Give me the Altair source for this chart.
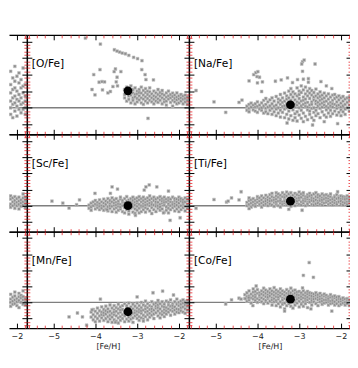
import altair as alt
import pandas as pd

# ---------------- data ----------------
FE_FULL = [-5.64, -1.76]      # [Fe/H] range of a full panel
FE_PART = [-2.19, -1.76]      # visible part of the cropped left column
FE_SLIV = [-5.64, -5.50]      # visible part of the cropped right column
Y_DOMAIN = [-0.8, 2.2]
X_MAJOR = [-5, -4, -3, -2]
X_MINOR = [-5.6, -5.4, -5.2, -4.8, -4.6, -4.4, -4.2, -3.8, -3.6, -3.4, -3.2,
           -2.8, -2.6, -2.4, -2.2, -1.8]
Y_MAJOR = [-0.5, 0.0, 0.5, 1.0, 1.5, 2.0]
Y_MINOR = [-0.7, -0.6, -0.4, -0.3, -0.2, -0.1, 0.1, 0.2, 0.3, 0.4, 0.6, 0.7, 0.8,
           0.9, 1.1, 1.2, 1.3, 1.4, 1.6, 1.7, 1.8, 1.9, 2.1]

# --- [O/Fe]
O_CLOUD = {
    -3.30: [0.55, 0.40, 0.30], -3.25: [0.62, 0.47, 0.20], -3.20: [0.35, 0.25, 0.58],
    -3.15: [0.50, 0.38, 0.15, 0.66], -3.10: [0.45, 0.30, 0.22, 0.55],
    -3.05: [0.60, 0.40, 0.12, 0.33], -3.00: [0.50, 0.28, 0.42, 0.18],
    -2.95: [0.36, 0.55, 0.24, 0.46], -2.90: [0.44, 0.30, 0.62, 0.15],
    -2.85: [0.52, 0.38, 0.26, 0.10], -2.80: [0.46, 0.33, 0.20, 0.58],
    -2.75: [0.40, 0.28, 0.50, 0.15], -2.70: [0.35, 0.22, 0.48, 0.60],
    -2.65: [0.42, 0.30, 0.18], -2.60: [0.50, 0.36, 0.25, 0.12],
    -2.55: [0.45, 0.32, 0.20], -2.50: [0.40, 0.27, 0.55, 0.16],
    -2.45: [0.35, 0.22, 0.46], -2.40: [0.42, 0.30, 0.12, 0.52],
    -2.35: [0.38, 0.25, 0.18], -2.30: [0.45, 0.32, 0.20, 0.08],
    -2.25: [0.36, 0.26, 0.50], -2.20: [0.30, 0.40, 0.16],
    -2.15: [0.34, 0.22, 0.44, 0.05], -2.10: [0.28, 0.38, 0.18],
    -2.05: [0.32, 0.24, 0.45, 0.12], -2.00: [0.27, 0.36, 0.15],
    -1.95: [0.30, 0.20, 0.40], -1.90: [0.25, 0.35, 0.12],
    -1.85: [0.28, 0.18, 0.38], -1.80: [0.22, 0.32, 0.10],
}
O_OUT = [(-4.24, 2.10), (-3.88, 1.92), (-3.545, 1.75), (-3.48, 1.71), (-3.42, 1.68),
         (-3.355, 1.65), (-3.28, 1.63), (-3.20, 1.58), (-3.085, 1.52), (-2.99, 1.48),
         (-2.885, 1.42), (-3.89, 1.15), (-4.04, 1.00), (-3.91, 0.77), (-3.84, 0.79),
         (-3.78, 0.78), (-4.08, 0.55), (-4.01, 0.39), (-3.52, 1.17), (-3.55, 1.09),
         (-3.39, 1.09), (-3.48, 0.92), (-3.50, 0.78), (-3.58, 0.64), (-3.47, 0.66),
         (-3.70, 0.45), (-3.83, 0.54), (-3.64, 0.49), (-2.89, 1.15), (-2.81, 1.00),
         (-2.79, 0.85), (-2.61, 0.84), (-2.74, -0.32)]
O_STAR = (-3.22, 0.51)

# --- [Na/Fe]
NA_CLOUD = {
    -4.25: [0.05, -0.08], -4.20: [0.10, -0.02, -0.12], -4.15: [0.02, 0.14],
    -4.10: [-0.06, 0.08], -4.05: [0.12, -0.10, 0.02], -4.00: [0.04, -0.14, 0.18],
    -3.95: [0.08, -0.04], -3.90: [0.15, -0.08, 0.00], -3.85: [0.06, -0.16, 0.22],
    -3.80: [0.10, -0.02, 0.28, -0.12], -3.75: [0.18, 0.02, -0.18],
    -3.70: [0.06, 0.24, -0.08], -3.65: [0.12, -0.02, 0.30, -0.20],
    -3.60: [0.20, 0.04, -0.12], -3.55: [0.08, 0.34, -0.04, -0.24],
    -3.50: [0.16, 0.00, 0.26, -0.16], -3.45: [0.40, 0.10, -0.08, 0.22, -0.28],
    -3.40: [0.04, 0.30, 0.16, -0.14], -3.35: [0.44, 0.20, 0.06, -0.04, -0.30],
    -3.30: [0.12, 0.36, -0.20, 0.26, 0.00], -3.25: [0.50, 0.18, -0.10, 0.30, -0.34],
    -3.20: [0.06, 0.40, -0.24, 0.22, 0.58], -3.15: [0.14, 0.32, -0.06, -0.38, 0.48],
    -3.10: [0.24, 0.02, 0.42, -0.18, 0.10, -0.30],
    -3.05: [0.36, 0.08, 0.60, -0.12, 0.18, -0.40],
    -3.00: [0.50, 0.28, 0.00, -0.22, 0.14, 0.40],
    -2.95: [0.20, -0.08, 0.46, 0.66, -0.32, 0.06],
    -2.90: [0.32, 0.10, -0.16, 0.54, -0.42, 0.22],
    -2.85: [0.42, 0.04, 0.26, -0.26, 0.14, 0.62],
    -2.80: [0.16, -0.06, 0.36, 0.50, -0.36, 0.02],
    -2.75: [0.28, 0.08, -0.20, 0.44, 0.58, -0.10],
    -2.70: [0.38, 0.18, -0.02, -0.30, 0.10, 0.52],
    -2.65: [0.24, 0.00, 0.46, -0.14, 0.32, -0.38],
    -2.60: [0.12, 0.36, -0.08, 0.56, -0.24, 0.20],
    -2.55: [0.30, 0.06, 0.42, -0.18, 0.16],
    -2.50: [0.22, -0.02, 0.48, -0.30, 0.10, 0.34],
    -2.45: [0.14, 0.38, -0.12, 0.26, 0.02], -2.40: [0.30, 0.08, -0.22, 0.44, 0.18],
    -2.35: [0.20, -0.06, 0.36, 0.04, -0.28], -2.30: [0.26, 0.12, 0.42, -0.16, 0.00],
    -2.25: [0.16, 0.32, -0.08, 0.06, -0.26], -2.20: [0.22, 0.38, 0.02, -0.18, 0.12],
    -2.15: [0.10, 0.28, -0.10, 0.40], -2.10: [0.18, -0.02, 0.32, -0.22, 0.06],
    -2.05: [0.24, 0.08, 0.36, -0.14], -2.00: [0.14, -0.06, 0.30, 0.02, -0.24],
    -1.95: [0.20, 0.06, 0.34, -0.12], -1.90: [0.10, 0.26, -0.04, -0.20],
    -1.85: [0.16, 0.30, 0.00], -1.80: [0.08, 0.22, -0.10, 0.32],
}
NA_OUT = [(-5.47, 0.52), (-5.04, 0.18), (-4.76, -0.14), (-4.44, 0.16), (-4.37, 0.23),
          (-4.20, 0.81), (-4.09, 1.00), (-4.04, 1.06), (-3.99, 1.09), (-4.01, 0.94),
          (-3.95, 0.92), (-3.88, 0.78), (-4.00, 0.75), (-3.90, 0.49), (-3.57, 0.80),
          (-3.43, 0.84), (-3.28, 0.90), (-3.16, 0.76), (-3.04, 0.85), (-2.90, 0.86),
          (-2.78, 0.88), (-2.78, 0.77), (-2.92, 1.39), (-2.88, 1.44), (-2.94, 1.32),
          (-2.92, 1.10), (-2.62, 1.32), (-2.48, 0.79), (-2.35, 0.66), (-2.22, 0.58),
          (-3.29, -0.46), (-2.68, -0.52), (-2.40, -0.42), (-2.08, -0.48)]
NA_STAR = (-3.21, 0.09)

# --- [Sc/Fe]
SC_CLOUD = {
    -4.15: [0.02, -0.08], -4.10: [0.08, -0.04, -0.14], -4.05: [0.00, 0.12],
    -4.00: [-0.10, 0.05, 0.16], -3.95: [0.02, -0.06, 0.10],
    -3.90: [-0.12, 0.06, 0.18, -0.02], -3.85: [0.00, 0.12, -0.08],
    -3.80: [0.08, -0.14, 0.20, -0.02], -3.75: [0.04, 0.14, -0.10],
    -3.70: [-0.04, 0.10, 0.22, -0.16], -3.65: [0.06, -0.08, 0.16, 0.00],
    -3.60: [0.12, -0.02, -0.18, 0.24], -3.55: [0.02, 0.18, -0.10, 0.08],
    -3.50: [-0.06, 0.10, 0.22, -0.20, 0.02], -3.45: [0.14, -0.02, 0.06, -0.14],
    -3.40: [0.04, 0.20, -0.10, 0.26, -0.04], -3.35: [0.10, -0.18, 0.00, 0.16],
    -3.30: [-0.06, 0.08, 0.22, -0.22, 0.02], -3.25: [0.14, -0.02, 0.28, -0.12],
    -3.20: [0.06, -0.16, 0.18, 0.10, -0.26], -3.15: [0.00, 0.22, -0.08, 0.12],
    -3.10: [0.16, -0.04, 0.06, -0.20, 0.26], -3.05: [-0.10, 0.10, 0.20, 0.02, -0.24],
    -3.00: [0.08, -0.02, 0.24, -0.14, 0.14], -2.95: [0.04, 0.18, -0.08, -0.22, 0.28],
    -2.90: [0.12, -0.04, 0.22, 0.00, -0.18], -2.85: [0.06, 0.16, -0.12, 0.26, -0.02],
    -2.80: [-0.06, 0.10, 0.20, -0.20, 0.02], -2.75: [0.14, 0.04, -0.10, 0.24],
    -2.70: [0.00, 0.18, -0.16, 0.08, 0.30], -2.65: [0.10, -0.06, 0.22, -0.24, 0.04],
    -2.60: [0.16, 0.02, -0.12, 0.26], -2.55: [0.06, -0.02, 0.20, -0.18, 0.12],
    -2.50: [0.10, 0.24, -0.08, 0.00], -2.45: [0.18, 0.04, -0.14, 0.28, -0.04],
    -2.40: [0.08, -0.10, 0.14, 0.22], -2.35: [0.02, 0.16, -0.20, 0.10, 0.26],
    -2.30: [0.12, -0.04, 0.20, -0.14], -2.25: [0.06, 0.24, -0.08, 0.16, -0.22],
    -2.20: [0.00, 0.12, 0.20, -0.12], -2.15: [0.10, -0.06, 0.26, 0.04],
    -2.10: [0.16, -0.16, 0.06, 0.22, -0.02], -2.05: [0.02, 0.12, -0.10, 0.20],
    -2.00: [0.08, -0.04, 0.18, -0.18, 0.26], -1.95: [0.14, 0.00, -0.12, 0.22],
    -1.90: [0.06, 0.18, -0.06, 0.10], -1.85: [0.12, -0.02, 0.24, -0.16],
    -1.80: [0.04, 0.16, -0.08, 0.20],
}
SC_OUT = [(-5.04, 0.14), (-4.78, 0.08), (-4.63, -0.07), (-4.38, 0.18), (-4.45, 0.03),
          (-4.01, 0.38), (-3.60, 0.58), (-3.47, 0.51), (-3.64, 0.38), (-2.83, 0.48),
          (-2.79, 0.58), (-2.71, 0.64), (-2.53, 0.58), (-2.25, 0.45), (-2.21, -0.45),
          (-1.97, -0.37), (-3.04, -0.30), (-2.37, -0.22), (-3.72, -0.12)]
SC_STAR = (-3.22, 0.00)

# --- [Ti/Fe]
TI_CLOUD = {
    -4.25: [0.10, 0.00], -4.20: [0.16, 0.04, 0.24], -4.15: [0.08, -0.04, 0.18],
    -4.10: [0.12, 0.02, 0.22], -4.05: [0.06, 0.16, -0.02], -4.00: [0.20, 0.10, 0.28],
    -3.95: [0.04, 0.14, 0.24], -3.90: [0.18, 0.08, -0.04, 0.30],
    -3.85: [0.12, 0.24, 0.02], -3.80: [0.20, 0.06, 0.32, 0.14],
    -3.75: [0.10, 0.26, 0.00, 0.18], -3.70: [0.22, 0.06, 0.34, 0.14],
    -3.65: [0.16, 0.02, 0.28, 0.38], -3.60: [0.10, 0.24, -0.02, 0.18],
    -3.55: [0.30, 0.06, 0.20, 0.40, 0.12], -3.50: [0.14, 0.26, 0.00, 0.36],
    -3.45: [0.22, 0.08, 0.32, 0.16, -0.04], -3.40: [0.12, 0.28, 0.40, 0.04],
    -3.35: [0.20, 0.34, 0.08, 0.26, 0.14], -3.30: [0.02, 0.18, 0.30, 0.42, 0.10],
    -3.25: [0.24, 0.14, 0.36, 0.06], -3.20: [0.10, 0.28, 0.20, -0.02, 0.40],
    -3.15: [0.16, 0.32, 0.04, 0.24], -3.10: [0.26, 0.12, 0.38, 0.00, 0.18],
    -3.05: [0.08, 0.22, 0.34, 0.14], -3.00: [0.30, 0.18, 0.04, 0.42, 0.24],
    -2.95: [0.12, 0.26, 0.36, 0.02], -2.90: [0.20, 0.08, 0.32, 0.16, 0.40],
    -2.85: [0.28, 0.14, 0.00, 0.22], -2.80: [0.10, 0.34, 0.20, 0.06, 0.26],
    -2.75: [0.18, 0.30, 0.12, 0.38], -2.70: [0.24, 0.04, 0.16, 0.32],
    -2.65: [0.10, 0.22, 0.36, 0.14, 0.02], -2.60: [0.28, 0.18, 0.06, 0.40],
    -2.55: [0.14, 0.26, 0.34, 0.08], -2.50: [0.20, 0.04, 0.30, 0.16],
    -2.45: [0.12, 0.24, 0.36, 0.02, 0.18], -2.40: [0.28, 0.08, 0.20, 0.32],
    -2.35: [0.16, 0.34, 0.10, 0.24], -2.30: [0.04, 0.22, 0.30, 0.14],
    -2.25: [0.18, 0.28, 0.08, 0.36], -2.20: [0.12, 0.24, 0.02, 0.20],
    -2.15: [0.30, 0.16, 0.08, 0.26], -2.10: [0.10, 0.22, 0.34, 0.04],
    -2.05: [0.18, 0.28, 0.12, 0.24], -2.00: [0.06, 0.20, 0.30, 0.14],
    -1.95: [0.22, 0.10, 0.28, 0.02], -1.90: [0.16, 0.26, 0.08, 0.20],
    -1.85: [0.12, 0.30, 0.04, 0.22], -1.80: [0.18, 0.08, 0.26, 0.14],
}
TI_OUT = [(-5.47, -0.08), (-5.04, 0.19), (-4.74, 0.11), (-4.70, 0.14), (-4.62, 0.24),
          (-4.39, 0.43), (-4.44, 0.18), (-4.20, -0.09), (-3.25, -0.11), (-2.93, -0.14),
          (-2.08, 0.43)]
TI_STAR = (-3.21, 0.14)

# --- [Mn/Fe]
MN_CLOUD = {
    -4.10: [-0.30, -0.46], -4.05: [-0.38, -0.22, -0.54], -4.00: [-0.28, -0.44, -0.60],
    -3.95: [-0.34, -0.18, -0.50], -3.90: [-0.42, -0.26, -0.58],
    -3.85: [-0.30, -0.48, -0.14, -0.38], -3.80: [-0.22, -0.40, -0.56, -0.32],
    -3.75: [-0.36, -0.12, -0.50, -0.26], -3.70: [-0.44, -0.20, -0.60, -0.30],
    -3.65: [-0.28, -0.40, -0.08, -0.52], -3.60: [-0.34, -0.18, -0.46, -0.62],
    -3.55: [-0.24, -0.38, -0.10, -0.54, -0.30], -3.50: [-0.42, -0.16, -0.28, -0.58],
    -3.45: [-0.20, -0.34, -0.48, -0.06, -0.64], -3.40: [-0.30, -0.44, -0.14, -0.24, -0.56],
    -3.35: [-0.38, -0.10, -0.50, -0.22], -3.30: [-0.26, -0.42, -0.04, -0.34, -0.60],
    -3.25: [-0.18, -0.30, -0.52, -0.10], -3.20: [-0.36, -0.22, -0.46, -0.02, -0.58],
    -3.15: [-0.28, -0.14, -0.40, -0.52], -3.10: [-0.20, -0.34, -0.06, -0.48, -0.62],
    -3.05: [-0.26, -0.12, -0.42, -0.32], -3.00: [-0.18, -0.38, -0.02, -0.50, -0.28],
    -2.95: [-0.30, -0.10, -0.44, -0.22, -0.56], -2.90: [-0.16, -0.34, 0.00, -0.26, -0.48],
    -2.85: [-0.24, -0.40, -0.08, -0.52], -2.80: [-0.12, -0.30, -0.44, -0.20, 0.04],
    -2.75: [-0.28, -0.04, -0.38, -0.16, -0.54], -2.70: [-0.22, -0.10, -0.34, -0.46],
    -2.65: [-0.14, -0.28, 0.02, -0.40, -0.20], -2.60: [-0.06, -0.24, -0.36, -0.50],
    -2.55: [-0.18, -0.32, -0.02, -0.12], -2.50: [-0.26, -0.08, -0.42, -0.16, 0.06],
    -2.45: [-0.20, -0.34, -0.04, -0.48], -2.40: [-0.12, -0.28, 0.02, -0.38],
    -2.35: [-0.22, -0.06, -0.32, -0.44, -0.14], -2.30: [-0.16, 0.04, -0.26, -0.36],
    -2.25: [-0.08, -0.20, -0.30, 0.00], -2.20: [-0.24, -0.12, 0.08, -0.40],
    -2.15: [-0.04, -0.18, -0.28, -0.10], -2.10: [-0.14, 0.02, -0.24, -0.36],
    -2.05: [-0.20, -0.06, 0.10, -0.30], -2.00: [-0.10, -0.22, 0.00, -0.32],
    -1.95: [-0.16, 0.04, -0.26, -0.06], -1.90: [-0.02, -0.14, -0.30, 0.08],
    -1.85: [-0.20, -0.08, 0.02, -0.34], -1.80: [-0.12, 0.06, -0.24, -0.04],
}
MN_OUT = [(-4.63, -0.45), (-4.43, -0.33), (-4.31, -0.45), (-3.88, 0.10), (-4.08, -0.23),
          (-4.21, -0.71), (-3.00, 0.17), (-2.62, 0.30), (-2.39, 0.35), (-2.13, 0.23),
          (-2.85, -0.58), (-3.52, -0.62)]
MN_STAR = (-3.22, -0.29)

# --- [Co/Fe]
CO_CLOUD = {
    -4.30: [0.12, 0.24], -4.25: [0.04, 0.30, 0.18], -4.20: [0.20, 0.36, 0.08],
    -4.15: [0.14, 0.26, -0.02], -4.10: [0.32, 0.10, 0.20, 0.42],
    -4.05: [0.06, 0.24, 0.16, 0.34], -4.00: [0.28, 0.12, 0.40, 0.00],
    -3.95: [0.18, 0.30, 0.08, 0.22], -3.90: [0.36, 0.14, 0.02, 0.26],
    -3.85: [0.10, 0.22, 0.32, 0.44, -0.04], -3.80: [0.18, 0.28, 0.06, 0.38],
    -3.75: [0.24, 0.12, 0.34, -0.02, 0.16], -3.70: [0.30, 0.04, 0.20, 0.42],
    -3.65: [0.14, 0.26, 0.36, -0.08, 0.08], -3.60: [0.22, 0.02, 0.32, 0.12, 0.46],
    -3.55: [0.18, 0.28, -0.10, 0.06, 0.38], -3.50: [0.10, 0.24, 0.34, -0.04, 0.16],
    -3.45: [0.30, 0.02, 0.20, 0.42, -0.14], -3.40: [0.14, 0.26, 0.08, 0.36, -0.06],
    -3.35: [0.22, -0.02, 0.32, 0.12, -0.20], -3.30: [0.06, 0.18, 0.28, 0.40, -0.10],
    -3.25: [0.26, 0.14, -0.04, 0.34, 0.02], -3.20: [0.20, -0.12, 0.30, 0.08, 0.44],
    -3.15: [0.12, 0.24, 0.00, 0.36, -0.18], -3.10: [0.28, 0.06, 0.18, -0.08, 0.38],
    -3.05: [0.16, 0.32, -0.02, 0.10, 0.24], -3.00: [0.04, 0.22, 0.34, -0.14, 0.14],
    -2.95: [0.26, 0.10, -0.06, 0.30, 0.18], -2.90: [0.14, 0.02, 0.24, 0.36, -0.12],
    -2.85: [0.20, 0.30, 0.06, -0.04, 0.12], -2.80: [0.08, 0.26, 0.16, 0.34, -0.16],
    -2.75: [0.22, 0.00, 0.12, 0.30], -2.70: [0.14, 0.28, -0.08, 0.06, 0.20],
    -2.65: [0.02, 0.18, 0.26, 0.10], -2.60: [0.22, 0.12, -0.04, 0.30],
    -2.55: [0.08, 0.16, 0.24, -0.10], -2.50: [0.18, 0.02, 0.28, 0.10],
    -2.45: [0.12, 0.22, -0.06, 0.04], -2.40: [0.20, 0.08, 0.26, -0.02],
    -2.35: [0.14, 0.00, 0.22, 0.08], -2.30: [0.06, 0.18, -0.08, 0.12],
    -2.25: [0.16, 0.04, 0.24, -0.04], -2.20: [0.10, -0.02, 0.18, 0.06],
    -2.15: [0.02, 0.14, 0.20, -0.08], -2.10: [0.08, -0.04, 0.16],
    -2.05: [0.12, 0.02, -0.10, 0.18], -2.00: [0.04, 0.10, -0.06],
    -1.95: [0.08, -0.02, 0.14], -1.90: [0.00, 0.10, -0.08],
    -1.85: [0.06, -0.04, 0.12], -1.80: [0.02, -0.10, 0.08],
}
CO_OUT = [(-4.76, -0.05), (-4.62, 0.08), (-4.44, 0.13), (-4.39, 0.10), (-4.29, 0.12),
          (-4.21, 0.15), (-2.76, 1.24), (-2.90, 0.84), (-2.66, 0.78), (-4.03, 0.51),
          (-2.92, 0.45), (-3.35, -0.27), (-2.72, -0.20), (-2.22, -0.27), (-4.11, -0.10)]
CO_STAR = (-3.21, 0.10)

# --- cropped left column (only its right edge is visible)
L1_CLOUD = {
    -2.15: [1.10, 0.70, 0.45, 0.20, 0.00, -0.20], -2.10: [0.90, 0.55, 0.30, 0.10, -0.30],
    -2.05: [1.25, 0.80, 0.60, 0.35, 0.15, -0.10], -2.00: [0.95, 0.50, 0.25, 0.05, -0.25],
    -1.95: [0.75, 0.40, 0.20, -0.05, 1.05], -1.90: [0.85, 0.60, 0.30, 0.10, -0.15],
    -1.85: [0.65, 0.45, 0.15, -0.05, 1.20], -1.80: [0.70, 0.35, 0.20, 0.00, -0.20],
}
L2_CLOUD = {
    -2.15: [0.20, 0.05, -0.05, 0.30], -2.10: [0.12, 0.00, 0.24],
    -2.05: [0.16, 0.06, -0.08, 0.28], -2.00: [0.22, 0.10, 0.00],
    -1.95: [0.14, 0.04, 0.26, -0.10], -1.90: [0.18, 0.08, -0.02],
    -1.85: [0.24, 0.12, 0.02, 0.36], -1.80: [0.16, 0.06, -0.06, 0.26],
}
L3_CLOUD = {
    -2.15: [0.10, 0.00, -0.12, 0.25], -2.10: [0.16, 0.04, -0.06],
    -2.05: [0.20, 0.08, -0.04, 0.32], -2.00: [0.12, 0.02, -0.10],
    -1.95: [0.18, 0.06, -0.16, 0.28], -1.90: [0.14, 0.00, 0.22],
    -1.85: [0.08, -0.06, 0.18, 0.36], -1.80: [0.12, 0.02, -0.08],
}

ROW_HEIGHTS = [100, 98, 97]
W_FULL, W_PART, W_SLIV = 163, 18, 6

FONT = "DejaVu Sans"
GREY_PT = "#8e8e8e"
RED = "#e8242a"


def in_dom(vals, dom):
    return [v for v in vals if dom[0] - 1e-9 <= v <= dom[1] + 1e-9]


def panel(cloud, out, star, label, xdom, width, height,
          left_edge=True, right_edge=True, bottom_labels=False, show_title=False):
    rows = [(x, v) for x, vs in cloud.items() for v in vs] + list(out)
    df = pd.DataFrame(rows, columns=["fe", "v"])
    df = df[(df.fe >= xdom[0]) & (df.fe <= xdom[1])]
    xs = alt.Scale(domain=xdom, nice=False, zero=False)
    ys = alt.Scale(domain=Y_DOMAIN, nice=False, zero=False)
    xmaj = in_dom(X_MAJOR, xdom)
    xmin = in_dom(X_MINOR, xdom)

    layers = []
    layers.append(
        alt.Chart(pd.DataFrame({"v": [0.0]}))
        .mark_rule(color="#7f7f7f", strokeWidth=1.4)
        .encode(y=alt.Y("v:Q", scale=ys, axis=None))
    )
    if len(df):
        layers.append(
            alt.Chart(df).mark_square(size=8, color=GREY_PT, opacity=1, clip=True,
                                      stroke="#c4c4c4", strokeWidth=0.6)
            .encode(x=alt.X("fe:Q", scale=xs, axis=None),
                    y=alt.Y("v:Q", scale=ys, axis=None))
        )
    if star is not None and xdom[0] <= star[0] <= xdom[1]:
        layers.append(
            alt.Chart(pd.DataFrame({"fe": [star[0]], "v": [star[1]]}))
            .mark_circle(size=78, color="black", opacity=1, clip=True)
            .encode(x=alt.X("fe:Q", scale=xs, axis=None),
                    y=alt.Y("v:Q", scale=ys, axis=None))
        )
    if label:
        layers.append(
            alt.Chart(pd.DataFrame({"t": [label]}))
            .mark_text(align="left", baseline="middle", fontSize=10.7, font=FONT,
                       color="black", clip=True)
            .encode(x=alt.value(5), y=alt.value(29.5), text="t:N")
        )

    anchor = pd.DataFrame({"fe": [sum(xdom) / 2], "v": [0.0]})
    common = dict(grid=False, title=None, labels=False)

    def ax_layer(xaxis, yaxis):
        return alt.Chart(anchor).mark_point(opacity=0, size=1).encode(
            x=alt.X("fe:Q", scale=xs, axis=xaxis),
            y=alt.Y("v:Q", scale=ys, axis=yaxis),
        )

    # bottom edge (ticks pointing up) and left edge (ticks pointing right)
    layers.append(ax_layer(
        alt.Axis(orient="top", offset=-height, values=xmaj, tickSize=5, tickColor="black",
                 tickWidth=1, domain=True, domainColor="black", domainWidth=1.3,
                 zindex=1, **common),
        alt.Axis(orient="right", offset=-width, values=Y_MAJOR, tickSize=5,
                 tickColor="black", tickWidth=1, domain=True, domainColor="black",
                 domainWidth=1.3, zindex=1, **common) if left_edge else None,
    ))
    layers.append(ax_layer(
        alt.Axis(orient="top", offset=-height, values=xmin, tickSize=3, tickColor=RED,
                 tickWidth=0.8, domain=False, zindex=1, **common),
        alt.Axis(orient="right", offset=-width, values=Y_MINOR, tickSize=3,
                 tickColor=RED, tickWidth=0.8, domain=False, zindex=1,
                 **common) if left_edge else None,
    ))
    # top edge (ticks pointing down) and right edge (ticks pointing left)
    layers.append(ax_layer(
        alt.Axis(orient="bottom", offset=-height, values=xmaj, tickSize=5,
                 tickColor="black", tickWidth=1, domain=True, domainColor="black",
                 domainWidth=1.3, zindex=1, **common),
        alt.Axis(orient="left", offset=-width, values=Y_MAJOR, tickSize=5,
                 tickColor="black", tickWidth=1, domain=True, domainColor="black",
                 domainWidth=1.3, zindex=1, **common) if right_edge else None,
    ))
    layers.append(ax_layer(
        alt.Axis(orient="bottom", offset=-height, values=xmin, tickSize=3,
                 tickColor=RED, tickWidth=0.8, domain=False, zindex=1, **common),
        alt.Axis(orient="left", offset=-width, values=Y_MINOR, tickSize=3,
                 tickColor=RED, tickWidth=0.8, domain=False, zindex=1,
                 **common) if right_edge else None,
    ))
    if bottom_labels and xmaj:
        layers.append(ax_layer(
            alt.Axis(orient="bottom", values=xmaj, ticks=False, domain=False, grid=False,
                     labels=True, format="d", labelFont=FONT, labelFontSize=8,
                     labelColor="#222222", labelPadding=4,
                     title="[Fe/H]" if show_title else None, titleFont=FONT,
                     titleFontSize=8, titleFontWeight="normal", titleColor="#222222",
                     titlePadding=2),
            None,
        ))

    return alt.layer(*layers).resolve_axis(x="independent", y="independent").properties(
        width=width, height=height)


rows_spec = [
    (L1_CLOUD, (O_CLOUD, O_OUT, O_STAR, "[O/Fe]"),
     (NA_CLOUD, NA_OUT, NA_STAR, "[Na/Fe]"), "[Mg/Fe]"),
    (L2_CLOUD, (SC_CLOUD, SC_OUT, SC_STAR, "[Sc/Fe]"),
     (TI_CLOUD, TI_OUT, TI_STAR, "[Ti/Fe]"), "[Cr/Fe]"),
    (L3_CLOUD, (MN_CLOUD, MN_OUT, MN_STAR, "[Mn/Fe]"),
     (CO_CLOUD, CO_OUT, CO_STAR, "[Co/Fe]"), "[Ni/Fe]"),
]

panels = []
for i, (lcloud, mid, right, sliver_label) in enumerate(rows_spec):
    h = ROW_HEIGHTS[i]
    bottom = i == 2
    panels.append(panel(lcloud, [], None, None, FE_PART, W_PART, h,
                        left_edge=False, bottom_labels=bottom))
    panels.append(panel(*mid, FE_FULL, W_FULL, h, bottom_labels=bottom, show_title=True))
    panels.append(panel(*right, FE_FULL, W_FULL, h, bottom_labels=bottom, show_title=True))
    panels.append(panel({}, [], None, sliver_label, FE_SLIV, W_SLIV, h, right_edge=False))

# the page has an 8px margin on each side, so the picture is cut at 342px width
chart = alt.concat(*panels, columns=4, spacing=0, bounds="flush").configure_view(
    stroke=None
).properties(
    padding={"left": 0, "top": 25, "right": -8, "bottom": 0},
    background="white",
)

chart.save("out.html", embed_options={"renderer": "svg", "actions": False})
